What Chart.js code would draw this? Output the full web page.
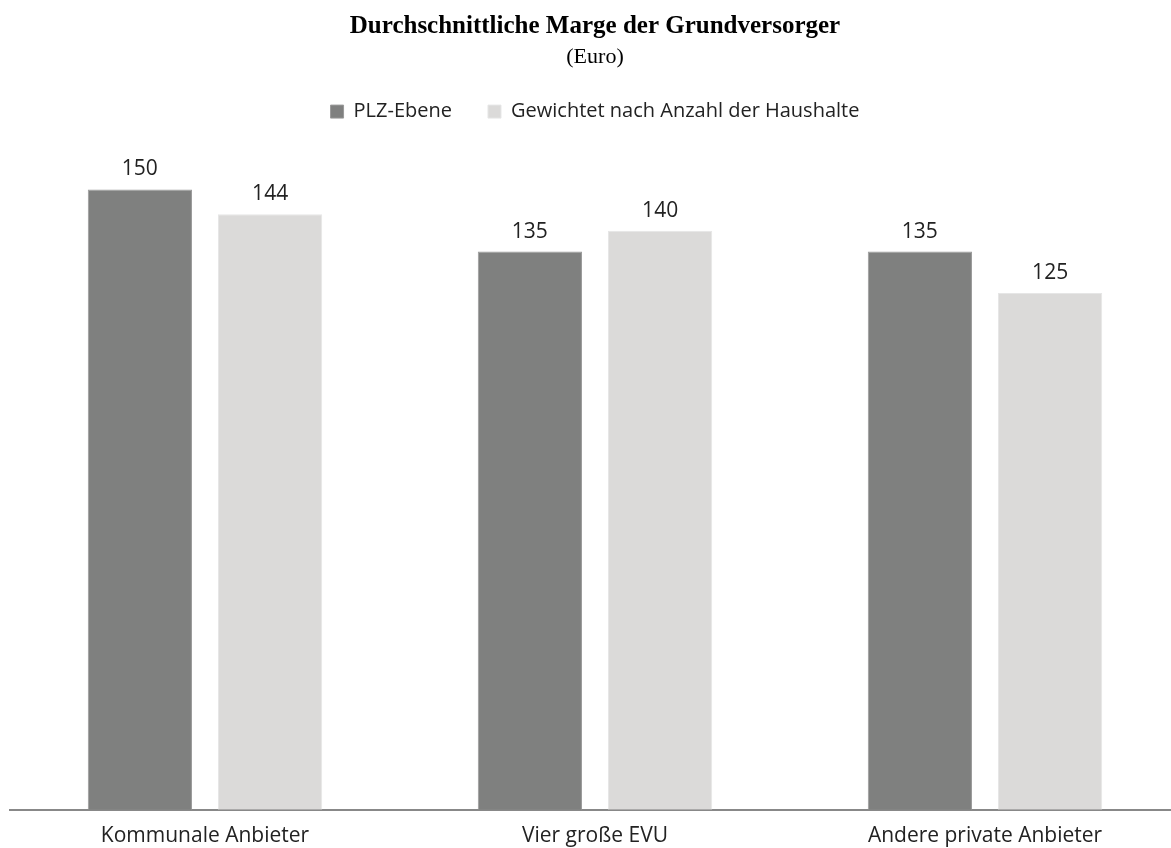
<!DOCTYPE html>
<html>
<head>
<meta charset="utf-8">
<script src="https://cdn.jsdelivr.net/npm/chart.js@4"></script>
<style>
  html, body { margin: 0; padding: 0; background: #fff; overflow: hidden; }
  #wrap { position: relative; width: 1180px; height: 863px; }
</style>
</head>
<body>
<div id="wrap"><canvas id="barChart"></canvas></div>
<script>
const categories = ["Kommunale Anbieter", "Vier große EVU", "Andere private Anbieter"];
const seriesNames = ["PLZ-Ebene", "Gewichtet nach Anzahl der Haushalte"];
const plzValues = [150, 135, 135];
const weightedValues = [144, 140, 125];

const sansFont = "'Open Sans', 'DejaVu Sans', sans-serif";
const serifFont = "'Liberation Serif', 'Times New Roman', serif";

// numbers above each bar
const valueLabels = {
  id: 'valueLabels',
  afterDatasetsDraw(chart) {
    const ctx = chart.ctx;
    ctx.save();
    ctx.font = "21px " + sansFont;
    ctx.fillStyle = '#222';
    ctx.textAlign = 'center';
    ctx.textBaseline = 'alphabetic';
    chart.data.datasets.forEach((ds, i) => {
      chart.getDatasetMeta(i).data.forEach((bar, j) => {
        ctx.fillText(ds.data[j], bar.x, bar.y - 14);
      });
    });
    ctx.restore();
  }
};

const ctx = document.getElementById("barChart").getContext("2d");
new Chart(ctx, {
  type: 'bar',
  data: {
    labels: categories,
    datasets: [
      { label: seriesNames[0], data: plzValues, backgroundColor: '#7f807f', borderColor: '#9a9a9a', borderWidth: 1 },
      { label: seriesNames[1], data: weightedValues, backgroundColor: '#dbdad9', borderColor: '#e6e6e6', borderWidth: 1 }
    ]
  },
  options: {
    responsive: true,
    maintainAspectRatio: false,
    animation: false,
    layout: { padding: { left: 10, right: 0, top: 12, bottom: 0 } },
    datasets: { bar: { categoryPercentage: 0.668, barPercentage: 0.8 } },
    scales: {
      x: {
        grid: { display: false, drawTicks: false },
        border: { display: true, color: '#888', width: 2 },
        ticks: { color: '#222', font: { family: sansFont, size: 21 }, padding: 14 }
      },
      y: {
        display: false,
        min: 0,
        max: 164
      }
    },
    plugins: {
      title: {
        display: true,
        text: 'Durchschnittliche Marge der Grundversorger',
        color: '#000',
        font: { family: serifFont, size: 25, weight: 'bold', lineHeight: 1.2 },
        padding: { top: 0, bottom: 0 }
      },
      subtitle: {
        display: true,
        text: '(Euro)',
        color: '#000',
        font: { family: serifFont, size: 22, lineHeight: 0.8 },
        padding: { top: 6, bottom: 0 }
      },
      legend: {
        display: true,
        labels: {
          color: '#222',
          font: { family: sansFont, size: 20 },
          boxWidth: 13,
          boxHeight: 13,
          padding: 36
        }
      },
      tooltip: { enabled: false }
    }
  },
  plugins: [valueLabels]
});
</script>
</body>
</html>
